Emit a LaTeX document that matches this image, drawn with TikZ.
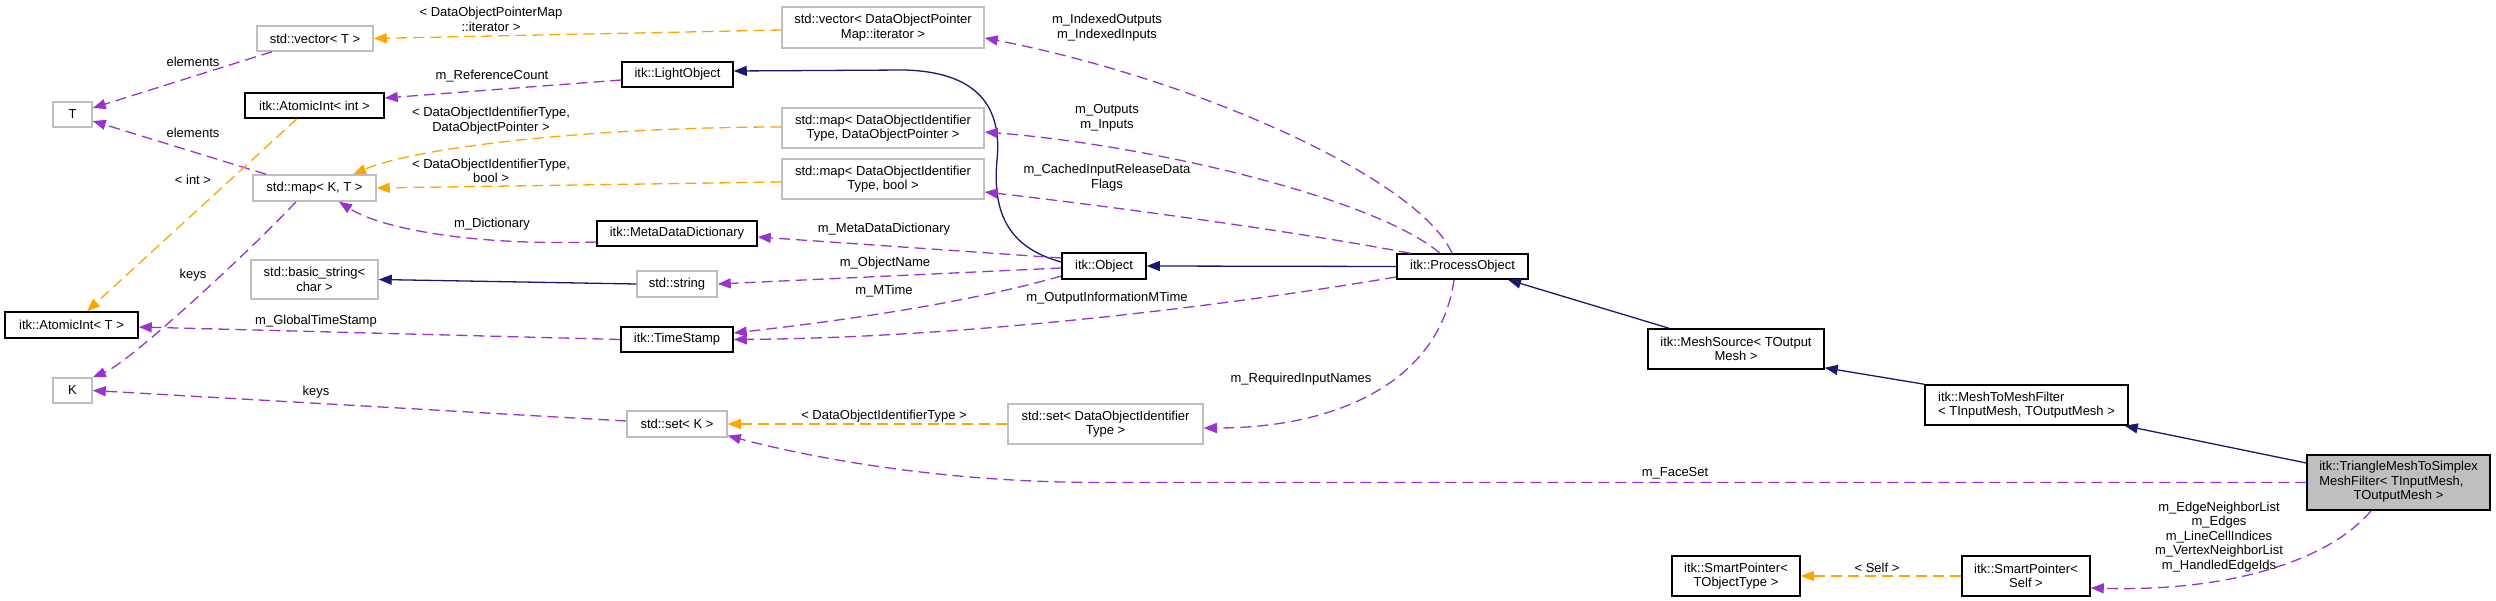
\documentclass[tikz,border=0pt]{standalone}
\usepackage{fontspec}
\setmainfont{Liberation Sans}
\usetikzlibrary{arrows.meta,calc}

\definecolor{edgeblue}{HTML}{191970}
\definecolor{edgepurple}{HTML}{9A32CD}
\definecolor{edgeorange}{HTML}{FFA500}
\definecolor{boxgrey}{HTML}{BFBFBF}

\tikzset{every picture/.style={line width=1.3pt}}
\tikzset{
  txt/.style={font=\fontsize{13}{14.5}\selectfont},
  extbox/.style={txt, rectangle, draw=boxgrey, line width=1.5pt, inner sep=0pt, align=center},
  clsbox/.style={extbox, draw=black},
  mainbox/.style={clsbox, fill=boxgrey},
  lbl/.style={txt, inner sep=0pt, align=center},
  member/.style={draw=edgepurple, dash pattern=on 11pt off 6pt, -{Triangle[length=13pt,width=10pt]}},
  tmpl/.style={member, draw=edgeorange},
  inherit/.style={draw=edgeblue, -{Triangle[length=13pt,width=10pt]}},
}

\begin{document}
\begin{tikzpicture}[x=1pt,y=1pt,yscale=-1,xscale=1]
\useasboundingbox (0,0) rectangle (2496,601);

%Shape: Rectangle (classes)
\node (T) at (72.5,114.5) [extbox, minimum width=39pt, minimum height=25pt] {T};
\node (K) at (72.5,390.5) [extbox, minimum width=39pt, minimum height=25pt] {K};
\node (vecT) at (315,38.5) [extbox, minimum width=116pt, minimum height=25pt] {std::vector< T >};
\node (aint) at (314.5,105.5) [clsbox, minimum width=139pt, minimum height=25pt] {itk::AtomicInt< int >};
\node (mapKT) at (314.5,188) [extbox, minimum width=123pt, minimum height=26pt] {std::map< K, T >};
\node (bstr) at (314.5,279.5) [extbox, minimum width=127pt, minimum height=39pt] {std::basic\_string<\\char >};
\node (aintT) at (71.5,325) [clsbox, minimum width=133pt, minimum height=26pt] {itk::AtomicInt< T >};
\node (light) at (677.5,74.5) [clsbox, minimum width=111pt, minimum height=25pt] {itk::LightObject};
\node (mdd) at (677,233.5) [clsbox, minimum width=160pt, minimum height=25pt] {itk::MetaDataDictionary};
\node (str) at (677,284) [extbox, minimum width=80pt, minimum height=26pt] {std::string};
\node (tstamp) at (677,339.5) [clsbox, minimum width=112pt, minimum height=25pt] {itk::TimeStamp};
\node (setK) at (677,424) [extbox, minimum width=100pt, minimum height=26pt] {std::set< K >};
\node (vecDOP) at (883,27.5) [extbox, minimum width=202pt, minimum height=41pt] {std::vector< DataObjectPointer\\Map::iterator >};
\node (mapDOP) at (883,128) [extbox, minimum width=202pt, minimum height=40pt] {std::map< DataObjectIdentifier\\Type, DataObjectPointer >};
\node (mapBool) at (883,179) [extbox, minimum width=202pt, minimum height=40pt] {std::map< DataObjectIdentifier\\Type, bool >};
\node (obj) at (1104,266) [clsbox, minimum width=84pt, minimum height=26pt] {itk::Object};
\node (setDOI) at (1105.5,424) [extbox, minimum width=195pt, minimum height=40pt] {std::set< DataObjectIdentifier\\Type >};
\node (proc) at (1462.5,266.5) [clsbox, minimum width=131pt, minimum height=25pt] {itk::ProcessObject};
\node (msrc) at (1736,349) [clsbox, minimum width=176pt, minimum height=40pt] {itk::MeshSource< TOutput\\Mesh >};
\node (m2m) at (2026.5,405) [clsbox, minimum width=203pt, minimum height=40pt, align=left] {itk::MeshToMeshFilter\\< TInputMesh, TOutputMesh >};
\node (tri) at (2398.5,482.5) [mainbox, minimum width=183pt, minimum height=55pt] {\begin{tabular}{@{}l@{}}itk::TriangleMeshToSimplex\\MeshFilter< TInputMesh,\\\multicolumn{1}{@{}c@{}}{TOutputMesh >}\end{tabular}};
\node (spT) at (1736,576) [clsbox, minimum width=128pt, minimum height=40pt] {itk::SmartPointer<\\TObjectType >};
\node (spS) at (2026,576) [clsbox, minimum width=128pt, minimum height=40pt] {itk::SmartPointer<\\Self >};

%Straight Lines (inheritance)
\draw [inherit] (str.west) -- (bstr.east);
\draw [inherit] (obj.west) ++(0,-4) .. controls (1010,248) and (992,215) .. (997,160) .. controls (1003,100) and (970,72) .. (905,70) -- ($(light.east)+(0,-3.5)$);
\draw [inherit] (proc.west) -- (obj.east);
\draw [inherit] ($(msrc.north)+(-67,0)$) -- ($(proc.south)+(45.5,0)$);
\draw [inherit] (m2m.north west) -- ($(msrc.south east)+(0,-2)$);
\draw [inherit] ($(tri.west)+(0,-19.5)$) -- ($(m2m.south east)+(-4,0)$);

%Curve Lines (members)
\draw [member] ($(vecT.south)+(-43,0)$) -- ($(T.east)+(0,-6.5)$);
\draw [member] ($(mapKT.north)+(-48.5,0)$) -- ($(T.east)+(0,6.5)$);
\draw [member] ($(mapKT.south)+(-18.5,0)$) .. controls (250,251) and (130,362) .. (K.north east);
\draw [member] ($(light.west)+(0,5.5)$) -- ($(aint.east)+(0,-7.5)$);
\draw [member] ($(mdd.west)+(0,8.5)$) .. controls (470,246) and (380,228) .. ($(mapKT.south)+(24.5,0)$);
\draw [member] (tstamp.west) -- ($(aintT.east)+(0,2)$);
\draw [member] ($(setK.west)+(0,-3)$) -- (K.east);
\draw [member] ($(obj.west)+(0,-8)$) -- ($(mdd.east)+(0,3.5)$);
\draw [member] ($(obj.west)+(0,2)$) -- (str.east);
\draw [member] ($(obj.west)+(0,10)$) .. controls (960,305) and (830,322) .. ($(tstamp.east)+(0,-6.5)$);
\draw [member] ($(proc.west)+(0,10.5)$) .. controls (1200,310) and (950,338) .. (tstamp.east);
\draw [member] ($(proc.north)+(-10.5,0)$) .. controls (1420,180) and (1200,80) .. ($(vecDOP.east)+(0,10.5)$);
\draw [member] ($(proc.north)+(-22.5,0)$) .. controls (1375,198) and (1150,145) .. ($(mapDOP.east)+(0,4)$);
\draw [member] ($(proc.north)+(-52.5,0)$) .. controls (1300,232) and (1100,205) .. ($(mapBool.east)+(0,13)$);
\draw [member] ($(proc.south)+(-8.5,0)$) .. controls (1440,380) and (1340,428) .. ($(setDOI.east)+(0,4)$);
\draw [member] (tri.west) -- (1100,482.5) .. controls (950,482.5) and (820,460) .. ($(setK.south east)+(0,-2)$);
\draw [member] ($(tri.south)+(-27.5,0)$) .. controls (2330,560) and (2230,592) .. ($(spS.east)+(0,12)$);

%Straight Lines (templates)
\draw [tmpl] ($(aint.south)+(-17.5,0)$) -- ($(aintT.north)+(15.5,0)$);
\draw [tmpl] ($(vecDOP.west)+(0,2.5)$) -- (vecT.east);
\draw [tmpl] ($(mapDOP.west)+(0,-1)$) .. controls (600,127) and (420,146) .. ($(mapKT.north)+(38.5,0)$);
\draw [tmpl] ($(mapBool.west)+(0,3)$) -- (mapKT.east);
\draw [tmpl] (setDOI.west) -- (setK.east);
\draw [tmpl] (spS.west) -- (spT.east);

% Text Node
\node (lElemA) at (193,62) [lbl] {elements};
\node (lElemB) at (193,133) [lbl] {elements};
\node (lInt) at (193,180) [lbl] {< int >};
\node (lKeysA) at (193,275) [lbl] {keys};
\node (lIter) at (491,19.5) [lbl] {< DataObjectPointerMap\\::iterator >};
\node (lRef) at (492,76) [lbl] {m\_ReferenceCount};
\node (lDOP) at (491,120.5) [lbl] {< DataObjectIdentifierType,\\DataObjectPointer >};
\node (lBool) at (491,171) [lbl] {< DataObjectIdentifierType,\\bool >};
\node (lDict) at (492,224) [lbl] {m\_Dictionary};
\node (lGTS) at (316,321) [lbl] {m\_GlobalTimeStamp};
\node (lKeysB) at (316,392) [lbl] {keys};
\node (lIdx) at (1107,27.5) [lbl] {m\_IndexedOutputs\\m\_IndexedInputs};
\node (lOut) at (1107,118) [lbl] {m\_Outputs\\m\_Inputs};
\node (lCache) at (1107,177.5) [lbl] {m\_CachedInputReleaseData\\Flags};
\node (lMDD) at (884,229) [lbl] {m\_MetaDataDictionary};
\node (lName) at (885,263) [lbl] {m\_ObjectName};
\node (lMT) at (884,291) [lbl] {m\_MTime};
\node (lOIM) at (1107,298) [lbl] {m\_OutputInformationMTime};
\node (lReq) at (1301,379) [lbl] {m\_RequiredInputNames};
\node (lDOI) at (884,416) [lbl] {< DataObjectIdentifierType >};
\node (lFace) at (1675,473) [lbl] {m\_FaceSet};
\node (lEdges) at (2219,537) [lbl] {m\_EdgeNeighborList\\m\_Edges\\m\_LineCellIndices\\m\_VertexNeighborList\\m\_HandledEdgeIds};
\node (lSelf) at (1877,568) [lbl] {< Self >};

\end{tikzpicture}
\end{document}
